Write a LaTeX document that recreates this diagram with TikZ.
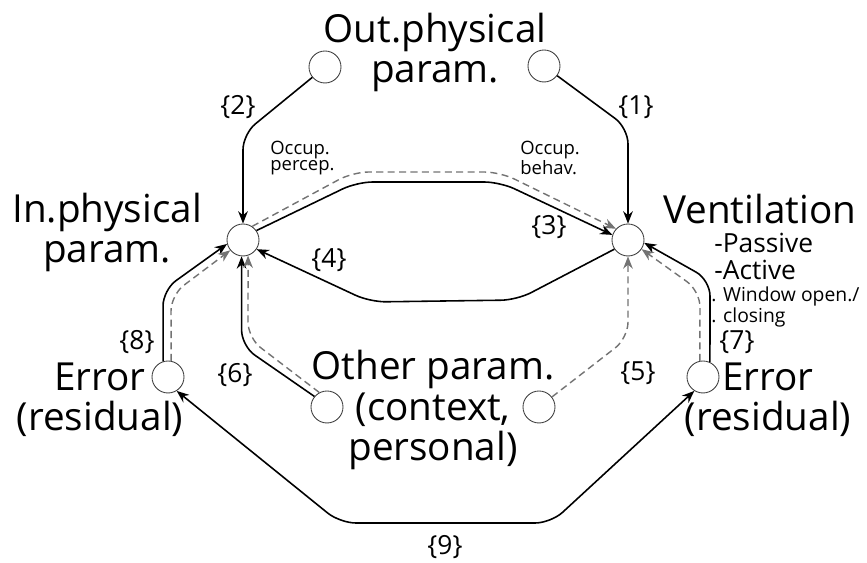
\documentclass[tikz,border=0pt]{standalone}
\usepackage{fontspec}
\setmainfont{Open Sans}
\usetikzlibrary{arrows.meta}

\begin{document}
\begin{tikzpicture}[x=0.02cm, y=-0.02cm, >={Stealth[length=7pt,width=5.5pt]},
  dot/.style={circle, draw=black!75, line width=0.5pt, minimum size=0.64cm, inner sep=0pt},
  big/.style={font=\fontsize{22}{22.8}\selectfont, align=center, inner sep=0pt},
  mid/.style={font=\fontsize{15}{15.4}\selectfont, align=left, inner sep=0pt},
  note/.style={font=\fontsize{11}{10.5}\selectfont, align=left, inner sep=0pt},
  occ/.style={font=\fontsize{10.5}{9.2}\selectfont, align=left, inner sep=0pt},
  num/.style={font=\fontsize{15}{15}\selectfont, inner sep=0pt},
  link/.style={->, line width=0.9pt, rounded corners=9pt},
  feed/.style={->, black!55, dash pattern=on 4pt off 2.5pt, line width=0.8pt, rounded corners=9pt}]
\useasboundingbox (0,0) rectangle (867,563);
% circles
\node[dot] (outL) at (325,67) {};
\node[dot] (outR) at (544,66) {};
\node[dot] (inP) at (243,240) {};
\node[dot] (vent) at (628,240) {};
\node[dot] (errL) at (168,377) {};
\node[dot] (errR) at (703,377) {};
\node[dot] (othL) at (327,407) {};
\node[dot] (othR) at (539,407) {};
% texts
\node[big] (outtxt) at (435,52) {Out.physical\\param.};
\node[big] (intxt) at (107,232) {In.physical\\param.};
\node[big, anchor=west] (venttxt) at (663,209) {Ventilation};
\node[mid, anchor=north west] (ventmode) at (714,233) {-Passive\\-Active};
\node[note, anchor=north west] (ventwin) at (711,286) {. Window open./\\. closing};
\node[big] (othtxt) at (433,410) {Other param.\\(context,\\personal)};
\node[big] (errLtxt) at (100,400) {Error\\(residual)};
\node[big] (errRtxt) at (768,400) {Error\\(residual)};
\node[occ, anchor=west] (percep) at (270,158) {Occup.\\percep.};
\node[occ, anchor=west] (behav) at (520,158) {Occup.\\behav.};
% links
\draw[link] (outR) -- (628,128) -- (vent);
\draw[link] (outL) -- (243,134) -- (inP);
\draw[feed] (inP.56) -- (353,172) -- (500,172) -- (vent.137);
\draw[link] (inP.35) -- (357,182) -- (500,182) -- (vent.162);
\draw[link] (vent.214) -- (517,300) -- (370,302) -- (inP.326);
\draw[feed] (othR) -- (628,338) -- (vent);
\draw[link] (othL.140) -- (241.6,346) -- (inP.265);
\draw[feed] (othL.118) -- (248,338) -- (inP.288);
\draw[link] (errR.65) -- (710,280) -- (vent.350);
\draw[feed] (errR.101) -- (700,291) -- (vent.326);
\draw[link] (errL.107) -- (163,290) -- (inP.194);
\draw[feed] (errL.79) -- (171,295) -- (inP.219);
\draw[link, <->] (errL.-58) -- (340,523) -- (551,523) -- (errR.-122);
% numbers
\node[num] (n1) at (636,107) {\{1\}};
\node[num] (n2) at (238,107) {\{2\}};
\node[num] (n3) at (549,227) {\{3\}};
\node[num] (n4) at (329,260) {\{4\}};
\node[num] (n5) at (638,373) {\{5\}};
\node[num] (n6) at (235,375) {\{6\}};
\node[num] (n7) at (737,342) {\{7\}};
\node[num] (n8) at (137,342) {\{8\}};
\node[num] (n9) at (445,547) {\{9\}};
\end{tikzpicture}
\end{document}
